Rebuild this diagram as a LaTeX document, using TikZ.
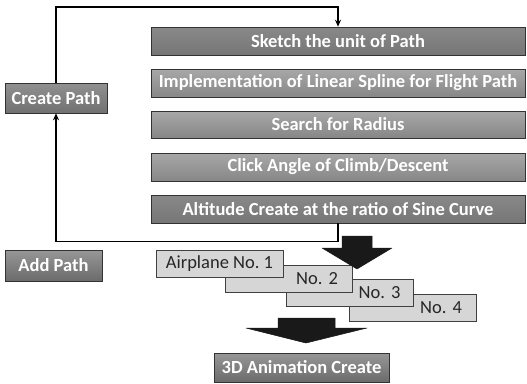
\documentclass[tikz,border=0pt]{standalone}
\usepackage{fontspec}
\setmainfont{Carlito}
\usetikzlibrary{arrows.meta}
\definecolor{boxdark}{gray}{0.42}
\definecolor{boxmid}{gray}{0.52}
\definecolor{boxlight}{gray}{0.62}
\definecolor{planebox}{gray}{0.84}
\tikzset{
  gbox/.style={draw=black!80, line width=0.6pt, inner sep=0pt, text=white,
    font=\fontsize{18.5}{20}\selectfont\bfseries},
  pbox/.style={draw=black!75, line width=0.6pt, fill=planebox, inner sep=0pt,
    minimum width=127pt, minimum height=27pt, text=black!85,
    font=\fontsize{18.5}{20}\selectfont},
  flow/.style={line width=1.6pt, black, -{Stealth[length=7pt,width=6pt]}},
  bigarrow/.style={fill=black!90, draw=black!90, line width=0.5pt, line join=round}
}
\begin{document}
\begin{tikzpicture}[x=1pt,y=-1pt]
\useasboundingbox (0,0) rectangle (527,383);
% main step boxes
\node[gbox, top color=boxdark!80, bottom color=boxdark!110!black, minimum width=374pt, minimum height=28pt] (s1) at (338,41) {Sketch the unit of Path};
\node[gbox, top color=boxlight!90, bottom color=boxlight!85!black, minimum width=374pt, minimum height=28pt] (s2) at (338,83) {Implementation of Linear Spline for Flight Path};
\node[gbox, top color=boxlight!90, bottom color=boxlight!85!black, minimum width=374pt, minimum height=27pt] (s3) at (338,124.5) {Search for Radius};
\node[gbox, top color=boxlight!90, bottom color=boxlight!85!black, minimum width=374pt, minimum height=28pt] (s4) at (338,167) {Click Angle of Climb/Descent};
\node[gbox, top color=boxdark!80, bottom color=boxdark!110!black, minimum width=374pt, minimum height=28pt] (s5) at (338,209) {Altitude Create at the ratio of Sine Curve};
% side boxes
\node[gbox, top color=boxmid!90, bottom color=boxmid!85!black, minimum width=102pt, minimum height=30pt] (create) at (56,98) {Create Path};
\node[gbox, top color=boxmid!85, bottom color=boxdark!100!black, minimum width=97pt, minimum height=31pt] (add) at (53.5,265.5) {Add Path};
% airplanes (drawn back to front)
\node[pbox, text width=99pt, align=right] (a4) at (412.5,307.5) {No.\ 4};
\node[pbox, text width=101pt, align=right] (a3) at (350,292.5) {No.\ 3};
\node[pbox, text width=99pt, align=right] (a2) at (288.5,278.5) {No.\ 2};
\node[pbox] (a1) at (219.5,263.5) {Airplane No.\ 1};
% final box
\node[gbox, top color=boxmid!85, bottom color=boxdark!100!black, minimum width=175pt, minimum height=29pt] (anim) at (301.5,367.5) {3D Animation Create};
% connectors
\draw[flow] (create.north) -- ++(0,-76) -| (s1.north);
\draw[flow] (s5.south) -- ++(0,18) -| (create.south);
% big block arrows
\fill[bigarrow] (342,236) -- (372,236) -- (372,248) -- (392,248) -- (357,269) -- (322,248) -- (342,248) -- cycle;
\fill[bigarrow] (278,318) -- (335,318) -- (335,328) -- (367,328) -- (306,343) -- (246,328) -- (278,328) -- cycle;
\end{tikzpicture}
\end{document}
